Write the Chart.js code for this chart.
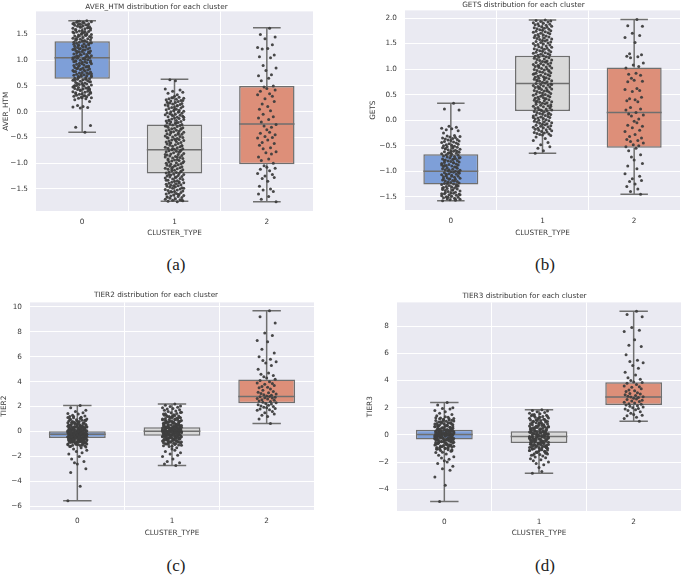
<!DOCTYPE html>
<html>
<head>
<meta charset="utf-8">
<script src="https://cdn.jsdelivr.net/npm/chart.js@4.4.0/dist/chart.umd.min.js"></script>
<style>
    body { margin: 0; background: #fff; width: 685px; height: 576px; position: relative; overflow: hidden; }
    canvas { position: absolute; }
    .cap { position: absolute; font-family: "Liberation Serif", serif; font-size: 17px; color: #222; transform: translate(-50%, -50%); }
</style>
</head>
<body>
<canvas id="chartA" width="340" height="241" style="left:0px;top:-1px"></canvas>
<canvas id="chartB" width="318" height="242" style="left:367px;top:-2px"></canvas>
<canvas id="chartC" width="342" height="250" style="left:-2px;top:290px"></canvas>
<canvas id="chartD" width="321" height="250" style="left:364px;top:290px"></canvas>
<div class="cap" style="left:176px;top:265px">(a)</div>
<div class="cap" style="left:545px;top:265px">(b)</div>
<div class="cap" style="left:176px;top:566px">(c)</div>
<div class="cap" style="left:545px;top:566px">(d)</div>
<script>
const CLUSTERS = ['0', '1', '2'];
const BOX_COLORS = ['#7e9fd8', '#d9d9d9', '#dd8f79'];
// horizontal strip offsets (category units) used to spread points like a stripplot
const JITTER = [0.03, -0.07, 0.09, -0.02, 0.06, -0.1, 0.01, -0.05, 0.08, -0.08, 0.04, -0.04, 0.1, -0.01, 0.05, -0.09, 0.02, -0.06, 0.07, -0.03, 0.0,
    0.09, -0.07, 0.03, -0.1, 0.06, -0.02, 0.08, -0.05, 0.01, -0.08, 0.04, -0.04, 0.07, -0.09, 0.02, -0.06, 0.1, -0.03, 0.05, 0.0];

// AVER_HTM
const averLow = [-0.40, -1.74, -1.75];
const averQ1 = [0.64, -1.20, -1.02];
const averMed = [1.05, -0.74, -0.24];
const averQ3 = [1.37, -0.25, 0.50];
const averHigh = [1.77, 0.63, 1.63];
const averTicks = [-1.5, -1.0, -0.5, 0.0, 0.5, 1.0, 1.5];
const averPts0 = [-0.40, -0.30, -0.27, 0.07, 0.08, 0.09, 0.10, 0.12, 0.20, 0.23, 0.25,
    0.26, 0.27, 0.28, 0.29, 0.30, 0.31, 0.32, 0.33, 0.34, 0.35, 0.36, 0.37, 0.38, 0.39, 0.40, 0.41, 0.42, 0.43, 0.44, 0.45, 0.46, 0.47, 0.48, 0.49,
    0.50, 0.51, 0.52, 0.53, 0.54, 0.55, 0.56, 0.57, 0.58, 0.59, 0.60, 0.61, 0.62, 0.63, 0.64, 0.65, 0.66, 0.67, 0.68, 0.69, 0.70, 0.71, 0.72, 0.73,
    0.74, 0.75, 0.76, 0.77, 0.78, 0.79, 0.80, 0.81, 0.82, 0.83, 0.84, 0.85, 0.86, 0.87, 0.88, 0.89, 0.90, 0.91, 0.92, 0.93, 0.94, 0.95, 0.96, 0.97,
    0.98, 0.99, 1.00, 1.01, 1.02, 1.03, 1.04, 1.05, 1.06, 1.07, 1.08, 1.09, 1.10, 1.11, 1.12, 1.13, 1.14, 1.15, 1.16, 1.17, 1.18, 1.19, 1.20, 1.21,
    1.22, 1.23, 1.24, 1.25, 1.26, 1.27, 1.28, 1.29, 1.30, 1.31, 1.32, 1.33, 1.34, 1.35, 1.36, 1.37, 1.38, 1.39, 1.40, 1.41, 1.42, 1.43, 1.44, 1.45,
    1.46, 1.47, 1.48, 1.49, 1.50, 1.51, 1.52, 1.53, 1.54, 1.55, 1.56, 1.57, 1.58, 1.59, 1.60, 1.61, 1.62, 1.63, 1.64, 1.65, 1.66, 1.67, 1.68, 1.69,
    1.70, 1.71, 1.72, 1.73, 1.74, 1.75, 1.76, 1.77,
    0.27, 0.31, 0.35, 0.38, 0.42, 0.45, 0.48, 0.52, 0.55, 0.58, 0.61, 0.64, 0.67, 0.70, 0.72, 0.75, 0.78, 0.81, 0.84, 0.87, 0.90, 0.93, 0.96, 0.99,
    1.02, 1.05, 1.08, 1.11, 1.14, 1.17, 1.20, 1.23, 1.26, 1.29, 1.32, 1.35, 1.38, 1.41, 1.44, 1.47, 1.50, 1.53, 1.56, 1.59, 1.62, 1.65, 1.68, 1.71,
    1.74, 1.76, 0.44, 0.51, 0.63, 0.69, 0.74, 0.83, 0.88, 0.97, 1.04, 1.09, 1.16, 1.22, 1.28, 1.34, 1.42, 1.49, 1.55, 1.63, 1.70];
const averPts1 = [-1.75, -1.74, -1.73, -1.72, -1.71, -1.70, -1.69, -1.68, -1.67, -1.66, -1.65, -1.64, -1.63, -1.62, -1.61, -1.60, -1.59, -1.58,
    -1.57, -1.56, -1.55, -1.54, -1.53, -1.52, -1.51, -1.50, -1.49, -1.48, -1.47, -1.46, -1.45, -1.44, -1.43, -1.42, -1.41, -1.40, -1.39, -1.38, -1.37,
    -1.36, -1.35, -1.34, -1.33, -1.32, -1.31, -1.30, -1.29, -1.28, -1.27, -1.26, -1.25, -1.24, -1.23, -1.22, -1.21, -1.20, -1.19, -1.18, -1.17, -1.16,
    -1.15, -1.14, -1.13, -1.12, -1.11, -1.10, -1.09, -1.08, -1.07, -1.06, -1.05, -1.04, -1.03, -1.02, -1.01, -1.00, -0.99, -0.98, -0.97, -0.96, -0.95,
    -0.94, -0.93, -0.92, -0.91, -0.90, -0.89, -0.88, -0.87, -0.86, -0.85, -0.84, -0.83, -0.82, -0.81, -0.80, -0.79, -0.78, -0.77, -0.76, -0.75, -0.74,
    -0.73, -0.72, -0.71, -0.70, -0.69, -0.68, -0.67, -0.66, -0.65, -0.64, -0.63, -0.62, -0.61, -0.60, -0.59, -0.58, -0.57, -0.56, -0.55, -0.54, -0.53,
    -0.52, -0.51, -0.50, -0.49, -0.48, -0.47, -0.46, -0.45, -0.44, -0.43, -0.42, -0.41, -0.40, -0.39, -0.38, -0.37, -0.36, -0.35, -0.34, -0.33, -0.32,
    -0.31, -0.30, -0.29, -0.28, -0.27, -0.26, -0.25, -0.24, -0.23, -0.22, -0.21, -0.20, -0.19, -0.18, -0.17, -0.16, -0.15, -0.14, -0.13, -0.12, -0.11,
    -0.10, -0.09, -0.08, -0.07, -0.06, -0.05, -0.04, -0.03, -0.02, -0.01, 0.00, 0.01, 0.02, 0.03, 0.04, 0.05, 0.06, 0.07, 0.08, 0.09, 0.10, 0.11,
    0.12, 0.13, 0.14, 0.15, 0.16, 0.17, 0.18, 0.19, 0.20, 0.21, 0.22, 0.23, 0.24, 0.25, 0.26, 0.27, 0.28, 0.30, 0.33, 0.36, 0.38, 0.40, 0.42, 0.44,
    0.60, 0.62, -1.72, -1.66, -1.61, -1.55, -1.49, -1.44, -1.38, -1.33, -1.27, -1.22, -1.16, -1.11, -1.05, -0.99, -0.94, -0.88, -0.83, -0.77, -0.72,
    -0.66, -0.61, -0.55, -0.50, -0.44, -0.39, -0.33, -0.28, -0.22, -0.17, -0.11, -0.06, 0.00, 0.05, 0.11, 0.16, 0.22, 0.27];
const averPts2 = [1.62, 1.50, 1.45, 1.42, 1.30, 1.25, 1.23, 1.22, 1.10, 1.07, 1.05, 0.90, 0.85, 0.80, 0.72, 0.70, 0.65, 0.60, 0.50, 0.48, 0.45, 0.42,
    0.40, 0.35, 0.33, 0.30, 0.25, 0.20, 0.15, 0.10, 0.05, 0.02, -0.05, -0.10, -0.12, -0.15, -0.20, -0.25, -0.28, -0.30, -0.35, -0.40, -0.42, -0.45, -0.48,
    -0.50, -0.51, -0.55, -0.60, -0.62, -0.65, -0.70, -0.72, -0.78, -0.80, -0.82, -0.88, -0.92, -0.95, -1.00, -1.05, -1.08, -1.10, -1.12, -1.15, -1.20,
    -1.22, -1.25, -1.28, -1.30, -1.35, -1.45, -1.50, -1.52, -1.55, -1.60, -1.65, -1.70, -1.75];

// GETS
const getsLow = [-1.58, -0.65, -1.45];
const getsQ1 = [-1.26, 0.18, -0.54];
const getsMed = [-1.00, 0.72, 0.15];
const getsQ3 = [-0.67, 1.26, 1.03];
const getsHigh = [0.33, 1.96, 1.97];
const getsTicks = [-1.5, -1.0, -0.5, 0.0, 0.5, 1.0, 1.5, 2.0];
const getsPts0 = [0.33, 0.22, 0.20, -0.12, -0.14, -0.16, -0.17, -0.19, -0.21, -0.25,
    -0.30, -0.31, -0.32, -0.33, -0.34, -0.35, -0.36, -0.37, -0.38, -0.39, -0.40, -0.41, -0.42, -0.43, -0.44, -0.45, -0.46, -0.47, -0.48, -0.49,
    -0.50, -0.51, -0.52, -0.53, -0.54, -0.55, -0.56, -0.57, -0.58, -0.59, -0.60, -0.61, -0.62, -0.63, -0.64, -0.65, -0.66, -0.67, -0.68, -0.69,
    -0.70, -0.71, -0.72, -0.73, -0.74, -0.75, -0.76, -0.77, -0.78, -0.79, -0.80, -0.81, -0.82, -0.83, -0.84, -0.85, -0.86, -0.87, -0.88, -0.89,
    -0.90, -0.91, -0.92, -0.93, -0.94, -0.95, -0.96, -0.97, -0.98, -0.99, -1.00, -1.01, -1.02, -1.03, -1.04, -1.05, -1.06, -1.07, -1.08, -1.09,
    -1.10, -1.11, -1.12, -1.13, -1.14, -1.15, -1.16, -1.17, -1.18, -1.19, -1.20, -1.21, -1.22, -1.23, -1.24, -1.25, -1.26, -1.27, -1.28, -1.29,
    -1.30, -1.31, -1.32, -1.33, -1.34, -1.35, -1.36, -1.37, -1.38, -1.39, -1.40, -1.41, -1.42, -1.43, -1.44, -1.45, -1.46, -1.47, -1.48, -1.49,
    -1.50, -1.51, -1.52, -1.53, -1.54, -1.55, -1.56, -1.57, -1.58,
    -0.52, -0.56, -0.61, -0.65, -0.70, -0.74, -0.79, -0.83, -0.88, -0.92, -0.97, -1.01, -1.06, -1.10, -1.15, -1.19, -1.24, -1.28, -1.33, -1.37,
    -1.42, -1.46, -1.51, -1.55, -0.64, -0.76, -0.89, -1.03, -1.16, -1.30, -1.44];
const getsPts1 = [1.96, 1.95, 1.94, 1.93, 1.92, 1.91, 1.90, 1.89, 1.88, 1.87, 1.86, 1.85, 1.84, 1.83, 1.82, 1.81, 1.80, 1.79, 1.78, 1.77, 1.76, 1.75,
    1.74, 1.73, 1.72, 1.71, 1.70, 1.69, 1.68, 1.67, 1.66, 1.65, 1.64, 1.63, 1.62, 1.61, 1.60, 1.59, 1.58, 1.57, 1.56, 1.55, 1.54, 1.53, 1.52, 1.51,
    1.50, 1.49, 1.48, 1.47, 1.46, 1.45, 1.44, 1.43, 1.42, 1.41, 1.40, 1.39, 1.38, 1.37, 1.36, 1.35, 1.34, 1.33, 1.32, 1.31, 1.30, 1.29, 1.28, 1.27,
    1.26, 1.25, 1.24, 1.23, 1.22, 1.21, 1.20, 1.19, 1.18, 1.17, 1.16, 1.15, 1.14, 1.13, 1.12, 1.11, 1.10, 1.09, 1.08, 1.07, 1.06, 1.05, 1.04, 1.03,
    1.02, 1.01, 1.00, 0.99, 0.98, 0.97, 0.96, 0.95, 0.94, 0.93, 0.92, 0.91, 0.90, 0.89, 0.88, 0.87, 0.86, 0.85, 0.84, 0.83, 0.82, 0.81, 0.80, 0.79,
    0.78, 0.77, 0.76, 0.75, 0.74, 0.73, 0.72, 0.71, 0.70, 0.69, 0.68, 0.67, 0.66, 0.65, 0.64, 0.63, 0.62, 0.61, 0.60, 0.59, 0.58, 0.57, 0.56, 0.55,
    0.54, 0.53, 0.52, 0.51, 0.50, 0.49, 0.48, 0.47, 0.46, 0.45, 0.44, 0.43, 0.42, 0.41, 0.40, 0.39, 0.38, 0.37, 0.36, 0.35, 0.34, 0.33, 0.32, 0.31,
    0.30, 0.29, 0.28, 0.27, 0.26, 0.25, 0.24, 0.23, 0.22, 0.21, 0.20, 0.19, 0.18, 0.17, 0.16, 0.15, 0.14, 0.13, 0.12, 0.11, 0.10, 0.09, 0.08, 0.07,
    0.06, 0.05, 0.04, 0.03, 0.02, 0.01, 0.00, -0.01, -0.02, -0.03, -0.04, -0.05, -0.06, -0.07, -0.08, -0.09, -0.10, -0.11, -0.12, -0.13, -0.14,
    -0.15, -0.16, -0.17, -0.18, -0.19, -0.20, -0.21, -0.22, -0.23, -0.24, -0.25, -0.26, -0.27, -0.28, -0.29, -0.30, -0.33, -0.36, -0.40, -0.44, -0.48,
    -0.52, -0.55, -0.60, -0.65, 1.14, 1.06, 0.97, 0.91, 0.83, 0.77, 0.70, 0.64, 0.57, 0.49, 0.42, 0.35, 0.27, 0.20, 0.12, 0.05];
const getsPts2 = [1.97, 1.85, 1.84, 1.70, 1.66, 1.62, 1.52, 1.30, 1.28, 1.25, 1.24, 1.22, 1.12, 1.08, 1.05, 1.02, 0.92, 0.90, 0.88, 0.82, 0.78, 0.76,
    0.75, 0.62, 0.60, 0.58, 0.56, 0.45, 0.42, 0.40, 0.38, 0.36, 0.25, 0.22, 0.20, 0.15, 0.12, 0.10, 0.08, 0.02, -0.02, -0.05, -0.10, -0.12, -0.15, -0.20,
    -0.22, -0.28, -0.32, -0.35, -0.38, -0.40, -0.42, -0.45, -0.48, -0.50, -0.52, -0.55, -0.60, -0.68, -0.72, -0.78, -0.85, -0.90, -0.95, -1.05, -1.10,
    -1.15, -1.18, -1.20, -1.25, -1.30, -1.35, -1.40, -1.45];

// TIER2
const tier2Low = [-5.55, -2.72, 0.64];
const tier2Q1 = [-0.53, -0.35, 2.26];
const tier2Med = [-0.22, 0.02, 2.80];
const tier2Q3 = [0.02, 0.34, 4.18];
const tier2High = [2.08, 2.20, 9.68];
const tier2Ticks = [-6, -4, -2, 0, 2, 4, 6, 8, 10];
const tier2Pts0 = [2.08, 1.9, 1.7, 1.6, 1.5, 1.45, 1.4, 1.3, 1.25, 1.2, 1.15, 1.1, 1.0, 0.95, 0.9, 0.85, 0.8, 0.75, 0.7, 0.65, 0.6, 0.55, 0.5, 0.45,
    0.42, 0.38, 0.35, 0.32, 0.28, 0.25, 0.22, 0.2, 0.18, 0.15, 0.12, 0.1, 0.08, 0.06, 0.04, 0.02, 0.01, 0.0, -0.02, -0.04, -0.06, -0.08, -0.1, -0.12,
    -0.14, -0.16, -0.18, -0.2, -0.21, -0.22, -0.23, -0.24, -0.26, -0.28, -0.3, -0.32, -0.34, -0.36, -0.38, -0.4, -0.42, -0.44, -0.46, -0.48, -0.5,
    -0.52, -0.54, -0.56, -0.58, -0.6, -0.62, -0.65, -0.68, -0.7, -0.72, -0.75, -0.78, -0.8, -0.83, -0.86, -0.9, -0.93, -0.96, -1.0, -1.05, -1.1, -1.15,
    -1.2, -1.3, -1.4, -1.5, -1.6, -1.7, -1.8, -2.0, -2.2, -2.4, -2.5, -2.6, -3.0, -3.3, -4.4, -5.55,
    -0.95, -0.92, -0.9, -0.87, -0.85, -0.82, -0.8, -0.77, -0.75, -0.72, -0.7, -0.67, -0.65, -0.62, -0.6, -0.57, -0.55, -0.52, -0.5, -0.47, -0.45,
    -0.42, -0.4, -0.37, -0.35, -0.32, -0.3, -0.27, -0.25, -0.22, -0.2, -0.17, -0.15, -0.12, -0.1, -0.07, -0.05, -0.02, 0.0, 0.03, 0.05, 0.08, 0.1,
    0.13, 0.15, 0.18, 0.2, 0.23, 0.25, 0.28, 0.3, 0.33, 0.35, 0.38, 0.4, 0.43, 0.45, 0.48, 0.5, 0.55, 0.6, 0.65, 0.7, 0.75, 0.8, 0.9, 1.0, 1.1, 1.2,
    -1.0, -1.05, -1.1, -0.61, -0.43, -0.31, -0.24, -0.19, -0.09,
    -1.25, -1.18, -1.12, -1.06, -0.99, -0.94, -0.88, -0.83, -0.78, -0.73, -0.69, -0.64, -0.59, -0.54, -0.49, -0.44, -0.39, -0.34, -0.29, -0.26,
    -0.21, -0.16, -0.13, -0.08, -0.03, 0.01, 0.06, 0.11, 0.16, 0.21, 0.26, 0.31, 0.36, 0.41, 0.47, 0.53, 0.58, 0.63, 0.68, 0.74, 0.82, 0.88, 0.97,
    1.05, 1.13, -0.36, -0.46, -0.56, -0.66, -0.76, -0.86, -0.14, 0.07, 0.27, 0.46];
const tier2Pts1 = [2.2, 2.1, 2.05, 2.0, 1.95, 1.9, 1.85, 1.8, 1.75, 1.7, 1.65, 1.6, 1.55, 1.5, 1.45, 1.4, 1.35, 1.3, 1.25, 1.2, 1.15, 1.1, 1.05, 1.0,
    0.95, 0.9, 0.85, 0.8, 0.75, 0.7, 0.65, 0.6, 0.55, 0.5, 0.46, 0.42, 0.38, 0.35, 0.32, 0.29, 0.26, 0.23, 0.2, 0.17, 0.14, 0.11, 0.08, 0.05, 0.03, 0.02,
    0.01, -0.01, -0.03, -0.05, -0.08, -0.11, -0.14, -0.17, -0.2, -0.23, -0.26, -0.29, -0.32, -0.35, -0.38, -0.42, -0.46, -0.5, -0.55, -0.6, -0.65, -0.7,
    -0.75, -0.8, -0.85, -0.9, -0.95, -1.0, -1.1, -1.2, -1.3, -1.4, -1.5, -1.6, -1.7, -1.8, -1.9, -2.0, -2.2, -2.4, -2.5, -2.6, -2.72,
    -0.9, -0.85, -0.8, -0.75, -0.7, -0.66, -0.62, -0.58, -0.54, -0.5, -0.47, -0.44, -0.41, -0.38, -0.35, -0.32, -0.29, -0.26, -0.23, -0.2, -0.17,
    -0.14, -0.11, -0.08, -0.05, -0.02, 0.0, 0.03, 0.06, 0.09, 0.12, 0.15, 0.18, 0.21, 0.24, 0.27, 0.3, 0.33, 0.36, 0.39, 0.42, 0.45, 0.48, 0.52, 0.56,
    0.6, 0.64, 0.68, 0.72, 0.76, 0.8, 0.85, 0.9, 0.95, 1.0, 1.05, 1.1, 1.15, 1.2, 1.25, 1.3, -0.96, -1.02, -1.08, -1.15, -0.6, -0.4, -0.1, 0.1, 0.4,
    -1.18, -1.05, -0.98, -0.92, -0.87, -0.82, -0.77, -0.72, -0.68, -0.63, -0.57, -0.52, -0.48, -0.43, -0.37, -0.33, -0.27, -0.22, -0.18, -0.13,
    -0.09, -0.04, 0.01, 0.04, 0.07, 0.13, 0.16, 0.22, 0.25, 0.31, 0.37, 0.43, 0.47, 0.54, 0.62, 0.66, 0.74, 0.82, 0.88, 0.97, 1.07, 1.17, 1.28, 1.42,
    1.52, -0.3, -0.15, 0.0, 0.2, 0.35, 0.5, 0.7, -0.55, -0.7];
const tier2Pts2 = [9.68, 9.2, 8.7, 7.9, 7.7, 7.3, 7.2, 6.6, 6.3, 6.0, 5.8, 5.7, 5.6, 5.5, 5.3, 5.0, 4.7, 4.6, 4.5, 4.4, 4.3, 4.2, 4.1, 4.0, 3.9, 3.85,
    3.8, 3.7, 3.6, 3.55, 3.5, 3.4, 3.3, 3.2, 3.15, 3.1, 3.05, 3.0, 2.95, 2.9, 2.85, 2.8, 2.78, 2.75, 2.7, 2.68, 2.65, 2.6, 2.55, 2.5, 2.45, 2.4, 2.35, 2.3,
    2.25, 2.2, 2.15, 2.1, 2.05, 2.0, 1.95, 1.9, 1.85, 1.8, 1.75, 1.7, 1.6, 1.5, 1.4, 1.3, 1.2, 1.0, 0.64];

// TIER3
const tier3Low = [-4.90, -2.83, 1.00];
const tier3Q1 = [-0.34, -0.59, 2.20];
const tier3Med = [0.02, -0.12, 2.78];
const tier3Q3 = [0.37, 0.26, 3.88];
const tier3High = [2.39, 1.85, 9.10];
const tier3Ticks = [-4, -2, 0, 2, 4, 6, 8];
const tier3Pts0 = [2.39, 2.2, 2.0, 1.95, 1.9, 1.8, 1.7, 1.6, 1.5, 1.4, 1.3, 1.25, 1.2, 1.15, 1.1, 1.05, 1.0, 0.95, 0.9, 0.85, 0.8, 0.75, 0.7, 0.65,
    0.6, 0.55, 0.5, 0.46, 0.42, 0.38, 0.35, 0.32, 0.29, 0.26, 0.23, 0.2, 0.17, 0.14, 0.11, 0.08, 0.05, 0.03, 0.02, 0.01, -0.01, -0.03, -0.05, -0.08,
    -0.11, -0.14, -0.17, -0.2, -0.23, -0.26, -0.29, -0.32, -0.35, -0.38, -0.42, -0.46, -0.5, -0.55, -0.6, -0.65, -0.7, -0.75, -0.8, -0.85, -0.9, -0.95,
    -1.0, -1.05, -1.1, -1.15, -1.2, -1.3, -1.4, -1.5, -1.6, -1.7, -1.8, -1.9, -2.0, -2.1, -2.3, -2.5, -2.6, -3.1, -3.7, -4.9,
    -1.1, -1.02, -0.96, -0.9, -0.84, -0.78, -0.72, -0.67, -0.62, -0.57, -0.52, -0.48, -0.44, -0.4, -0.36, -0.32, -0.28, -0.24, -0.2, -0.16, -0.12,
    -0.08, -0.04, 0.0, 0.04, 0.08, 0.12, 0.16, 0.2, 0.24, 0.28, 0.32, 0.36, 0.4, 0.44, 0.48, 0.52, 0.57, 0.62, 0.67, 0.72, 0.78, 0.84, 0.9, 0.96,
    1.02, 1.1, 1.18, 1.26, -0.7, -0.5, -0.3, -0.1, 0.1, 0.3, 0.5, 0.7, -0.25, 0.15,
    -1.28, -1.16, -1.06, -0.99, -0.93, -0.87, -0.81, -0.75, -0.69, -0.64, -0.59, -0.54, -0.49, -0.45, -0.41, -0.37, -0.33, -0.27, -0.22, -0.18,
    -0.13, -0.09, -0.06, -0.02, 0.02, 0.06, 0.1, 0.13, 0.18, 0.22, 0.27, 0.31, 0.37, 0.43, 0.49, 0.54, 0.6, 0.66, 0.73, 0.81, 0.88, 0.97, 1.08, 1.19,
    1.33, -0.15, 0.05, 0.25, 0.45, -0.55, -0.35, 0.65];
const tier3Pts1 = [1.85, 1.8, 1.75, 1.7, 1.65, 1.6, 1.55, 1.5, 1.45, 1.4, 1.35, 1.3, 1.25, 1.2, 1.15, 1.1, 1.05, 1.0, 0.95, 0.9, 0.85, 0.8, 0.75, 0.7,
    0.65, 0.6, 0.55, 0.5, 0.45, 0.4, 0.35, 0.3, 0.26, 0.22, 0.18, 0.14, 0.1, 0.06, 0.02, -0.02, -0.06, -0.1, -0.12, -0.14, -0.18, -0.22, -0.26, -0.3,
    -0.34, -0.38, -0.42, -0.46, -0.5, -0.54, -0.59, -0.64, -0.69, -0.74, -0.79, -0.84, -0.89, -0.94, -0.99, -1.04, -1.09, -1.14, -1.2, -1.26, -1.32,
    -1.38, -1.44, -1.5, -1.56, -1.62, -1.68, -1.75, -1.82, -1.9, -2.0, -2.1, -2.2, -2.4, -2.7, -2.83,
    -1.4, -1.3, -1.22, -1.15, -1.08, -1.01, -0.95, -0.89, -0.83, -0.77, -0.71, -0.66, -0.61, -0.56, -0.51, -0.46, -0.41, -0.36, -0.31, -0.26, -0.21,
    -0.16, -0.11, -0.06, -0.01, 0.04, 0.09, 0.14, 0.19, 0.24, 0.29, 0.34, 0.4, 0.46, 0.52, 0.58, 0.64, 0.7, 0.77, 0.84, 0.91, 0.98, 1.06, 1.14, 1.22,
    1.3, 1.4, -0.9, -0.7, -0.5, -0.3, -0.15, 0.0, 0.2, 0.5, -0.45,
    -1.48, -1.35, -1.25, -1.18, -1.11, -1.04, -0.97, -0.92, -0.86, -0.8, -0.74, -0.68, -0.63, -0.57, -0.52, -0.48, -0.43, -0.38, -0.33, -0.28,
    -0.23, -0.19, -0.13, -0.08, -0.04, 0.01, 0.06, 0.11, 0.16, 0.21, 0.27, 0.32, 0.38, 0.43, 0.49, 0.55, 0.62, 0.68, 0.75, 0.82, 0.89, 0.96, 1.04,
    1.12, 1.24, 1.36, 1.48, -0.6, -0.2, 0.05, 0.25, -0.95];
const tier3Pts2 = [9.1, 8.85, 8.7, 7.9, 7.7, 7.6, 7.0, 6.6, 6.5, 5.9, 5.5, 5.4, 5.3, 5.1, 4.9, 4.6, 4.4, 4.2, 4.1, 4.0, 3.9, 3.85, 3.8, 3.7, 3.6, 3.55,
    3.5, 3.4, 3.3, 3.25, 3.2, 3.1, 3.05, 3.0, 2.95, 2.9, 2.85, 2.8, 2.78, 2.75, 2.7, 2.65, 2.6, 2.55, 2.5, 2.45, 2.4, 2.35, 2.3, 2.25, 2.2, 2.15, 2.1,
    2.05, 2.0, 1.95, 1.9, 1.85, 1.8, 1.7, 1.6, 1.5, 1.45, 1.4, 1.3, 1.2, 1.0];

const FONT = 'DejaVu Sans';
const TEXT_COLOR = '#3a3a3a';
const LINE_COLOR = '#6f6f6f';

const plotBackground = {
    id: 'plotBackground',
    beforeDraw(chart) {
        const { ctx, chartArea } = chart;
        ctx.save();
        ctx.fillStyle = '#eaeaf2';
        ctx.fillRect(chartArea.left, chartArea.top, chartArea.width, chartArea.height);
        ctx.restore();
    }
};

function formatTick(value, decimals) {
    const text = Math.abs(value).toFixed(decimals);
    return value < 0 ? '\u2212' + text : text;
}

function renderBoxChart(canvasId, title, yLabel, low, q1, med, q3, high, points, ticks, yMin, yMax, decimals, layout) {
    const boxData = CLUSTERS.map((c, i) => ({ x: i, y: [q1[i], q3[i]] }));

    const medianData = [];
    const whiskerData = [];
    CLUSTERS.forEach((c, i) => {
        medianData.push({ x: i - 0.3, y: med[i] }, { x: i + 0.3, y: med[i] }, { x: i, y: null });
        whiskerData.push(
            { x: i, y: q3[i] }, { x: i, y: high[i] }, { x: i, y: null },
            { x: i - 0.15, y: high[i] }, { x: i + 0.15, y: high[i] }, { x: i, y: null },
            { x: i, y: q1[i] }, { x: i, y: low[i] }, { x: i, y: null },
            { x: i - 0.15, y: low[i] }, { x: i + 0.15, y: low[i] }, { x: i, y: null }
        );
    });

    const pointData = [];
    points.forEach((values, i) => {
        values.forEach((v, k) => {
            pointData.push({ x: i + JITTER[k % JITTER.length], y: v });
        });
    });

    const ctx = document.getElementById(canvasId).getContext('2d');
    new Chart(ctx, {
        type: 'bar',
        data: {
            datasets: [
                {
                    type: 'scatter',
                    data: pointData,
                    pointRadius: 1.5,
                    pointBackgroundColor: 'rgba(62, 62, 62, 0.95)',
                    pointBorderWidth: 0,
                    order: 0,
                },
                {
                    type: 'line',
                    data: medianData,
                    borderColor: LINE_COLOR,
                    borderWidth: 1.5,
                    pointRadius: 0,
                    order: 1,
                },
                {
                    type: 'line',
                    data: whiskerData,
                    borderColor: LINE_COLOR,
                    borderWidth: 1.5,
                    pointRadius: 0,
                    order: 2,
                },
                {
                    type: 'bar',
                    data: boxData,
                    backgroundColor: BOX_COLORS,
                    borderColor: LINE_COLOR,
                    borderWidth: 1.5,
                    borderSkipped: false,
                    barPercentage: 0.6,
                    categoryPercentage: 1,
                    order: 3,
                },
            ],
        },
        options: {
            responsive: false,
            animation: false,
            layout: { padding: { left: 0, right: layout.padRight, top: 0, bottom: 0 } },
            plugins: {
                legend: { display: false },
                tooltip: { enabled: false },
                title: {
                    display: true,
                    text: title,
                    color: TEXT_COLOR,
                    font: { family: FONT, size: 7.3, weight: 'normal', lineHeight: 9 / 7.3 },
                    padding: { top: 0, bottom: layout.titleH - 9 },
                },
            },
            scales: {
                x: {
                    type: 'linear',
                    min: -0.5,
                    max: 2.5,
                    offset: false,
                    afterBuildTicks: (scale) => { scale.ticks = CLUSTERS.map((c, i) => ({ value: i })); },
                    afterFit: (scale) => { scale.height = layout.xH; },
                    ticks: {
                        padding: 7,
                        color: TEXT_COLOR,
                        font: { family: FONT, size: 7.3 },
                        callback: (v) => CLUSTERS[v],
                    },
                    grid: { color: '#ffffff', lineWidth: 1, drawTicks: false },
                    border: { display: false },
                    title: {
                        display: true,
                        text: 'CLUSTER_TYPE',
                        color: TEXT_COLOR,
                        font: { family: FONT, size: 7.3, lineHeight: 1.2 },
                        padding: { top: 0, bottom: 3 },
                    },
                },
                y: {
                    type: 'linear',
                    min: yMin,
                    max: yMax,
                    afterBuildTicks: (scale) => { scale.ticks = ticks.map((t) => ({ value: t })); },
                    afterFit: (scale) => { scale.width = layout.yW; },
                    ticks: {
                        padding: 8,
                        color: TEXT_COLOR,
                        font: { family: FONT, size: 7.3 },
                        callback: (v) => formatTick(v, decimals),
                    },
                    grid: { color: '#ffffff', lineWidth: 1, drawTicks: false },
                    border: { display: false },
                    title: {
                        display: true,
                        text: yLabel,
                        color: TEXT_COLOR,
                        font: { family: FONT, size: 7.3, lineHeight: 1.2 },
                        padding: { top: 1.5, bottom: 0 },
                    },
                },
            },
        },
        plugins: [plotBackground],
    });
}

renderBoxChart('chartA', 'AVER_HTM distribution for each cluster', 'AVER_HTM',
    averLow, averQ1, averMed, averQ3, averHigh, [averPts0, averPts1, averPts2],
    averTicks, -1.93, 1.95, 1, { yW: 36, xH: 29, padRight: 27, titleH: 9 });

renderBoxChart('chartB', 'GETS distribution for each cluster', 'GETS',
    getsLow, getsQ1, getsMed, getsQ3, getsHigh, [getsPts0, getsPts1, getsPts2],
    getsTicks, -1.76, 2.15, 1, { yW: 38, xH: 30, padRight: 5, titleH: 10 });

renderBoxChart('chartC', 'TIER2 distribution for each cluster', 'TIER2',
    tier2Low, tier2Q1, tier2Med, tier2Q3, tier2High, [tier2Pts0, tier2Pts1, tier2Pts2],
    tier2Ticks, -6.3, 10.36, 0, { yW: 32, xH: 30, padRight: 26, titleH: 12 });

renderBoxChart('chartD', 'TIER3 distribution for each cluster', 'TIER3',
    tier3Low, tier3Q1, tier3Med, tier3Q3, tier3High, [tier3Pts0, tier3Pts1, tier3Pts2],
    tier3Ticks, -5.6, 9.75, 0, { yW: 33, xH: 29, padRight: 0, titleH: 11 });
</script>
</body>
</html>
